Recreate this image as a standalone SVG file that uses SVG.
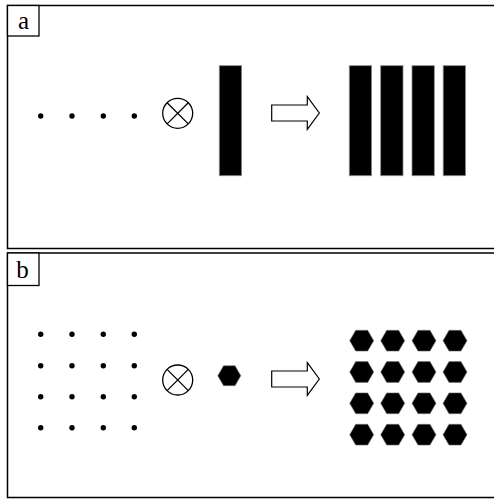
<svg xmlns="http://www.w3.org/2000/svg" width="494" height="500" viewBox="0 0 494 500">
  <style>
    .frame { fill: #fff; stroke: #000; stroke-width: 1.5; }
    .tag { fill: #fff; stroke: #000; stroke-width: 1.3; }
    .tagtxt { font-family: "Liberation Serif", serif; font-size: 25px; fill: #000; }
    .dot { fill: #000; }
    .otimes { fill: none; stroke: #000; stroke-width: 1.3; }
    .bar { fill: #000; stroke: #888; stroke-width: 0.8; }
    .arrow { fill: #fff; stroke: #000; stroke-width: 1.2; }
    .hex { fill: #000; stroke: #777; stroke-width: 0.6; }
  </style>
  <defs>
    <g id="otimes">
      <circle class="otimes" cx="0" cy="0" r="15"/>
      <path class="otimes" d="M-10.6,-10.6 L10.6,10.6 M-10.6,10.6 L10.6,-10.6"/>
    </g>
    <path id="bigArrow" class="arrow" d="M0,-8 H35.6 V-16.3 L47.6,0 L35.6,16.3 V8 H0 Z"/>
    <polygon id="hexS" points="11.5,0 5.75,9.96 -5.75,9.96 -11.5,0 -5.75,-9.96 5.75,-9.96"/>
    <polygon id="hexL" points="12,0 6,10.4 -6,10.4 -12,0 -6,-10.4 6,-10.4"/>
  </defs>

  <!-- Panel a: line of points times a slit gives a grating -->
  <g id="panel-a">
    <rect class="frame" x="7.5" y="5.5" width="490" height="243"/>
    <rect class="tag" x="7.5" y="5.5" width="31.5" height="30.5"/>
    <text class="tagtxt" x="23.5" y="28.7" text-anchor="middle">a</text>
  </g>
  <g id="a-points">
    <circle class="dot" cx="40.7" cy="116" r="2.7"/>
    <circle class="dot" cx="72" cy="116" r="2.7"/>
    <circle class="dot" cx="103.3" cy="116" r="2.7"/>
    <circle class="dot" cx="134.3" cy="116" r="2.7"/>
  </g>
  <g id="a-conv"><use href="#otimes" x="177.7" y="113.3"/></g>
  <g id="a-slit"><rect class="bar" x="219.3" y="65.7" width="22.3" height="110"/></g>
  <g id="a-grating">
    <rect class="bar" x="349.3" y="65.7" width="22.3" height="110"/>
    <rect class="bar" x="380.7" y="65.7" width="22.3" height="110"/>
    <rect class="bar" x="412" y="65.7" width="22.3" height="110"/>
    <rect class="bar" x="443.2" y="65.7" width="22.3" height="110"/>
  </g>

  <!-- Panel b: lattice of points times a hexagon gives a hexagon array -->
  <g id="panel-b">
    <rect class="frame" x="7.5" y="253" width="490" height="244.5"/>
    <rect class="tag" x="7.5" y="253" width="31.5" height="32.5"/>
    <text class="tagtxt" x="22.5" y="278" text-anchor="middle">b</text>
  </g>
  <g id="b-points">
    <circle class="dot" cx="40.7" cy="334.3" r="2.7"/>
    <circle class="dot" cx="72" cy="334.3" r="2.7"/>
    <circle class="dot" cx="103.3" cy="334.3" r="2.7"/>
    <circle class="dot" cx="134.3" cy="334.3" r="2.7"/>
    <circle class="dot" cx="40.7" cy="365.7" r="2.7"/>
    <circle class="dot" cx="72" cy="365.7" r="2.7"/>
    <circle class="dot" cx="103.3" cy="365.7" r="2.7"/>
    <circle class="dot" cx="134.3" cy="365.7" r="2.7"/>
    <circle class="dot" cx="40.7" cy="396.7" r="2.7"/>
    <circle class="dot" cx="72" cy="396.7" r="2.7"/>
    <circle class="dot" cx="103.3" cy="396.7" r="2.7"/>
    <circle class="dot" cx="134.3" cy="396.7" r="2.7"/>
    <circle class="dot" cx="40.7" cy="427.7" r="2.7"/>
    <circle class="dot" cx="72" cy="427.7" r="2.7"/>
    <circle class="dot" cx="103.3" cy="427.7" r="2.7"/>
    <circle class="dot" cx="134.3" cy="427.7" r="2.7"/>
  </g>
  <g id="b-conv"><use href="#otimes" x="177.7" y="380"/></g>
  <g id="b-hexagon"><use href="#hexS" class="hex" x="229.3" y="375.7"/></g>
  <g id="b-array">
    <use href="#hexL" class="hex" x="361.7" y="340.7"/>
    <use href="#hexL" class="hex" x="392.7" y="340.7"/>
    <use href="#hexL" class="hex" x="424" y="340.7"/>
    <use href="#hexL" class="hex" x="455" y="340.7"/>
    <use href="#hexL" class="hex" x="361.7" y="372"/>
    <use href="#hexL" class="hex" x="392.7" y="372"/>
    <use href="#hexL" class="hex" x="424" y="372"/>
    <use href="#hexL" class="hex" x="455" y="372"/>
    <use href="#hexL" class="hex" x="361.7" y="403.3"/>
    <use href="#hexL" class="hex" x="392.7" y="403.3"/>
    <use href="#hexL" class="hex" x="424" y="403.3"/>
    <use href="#hexL" class="hex" x="455" y="403.3"/>
    <use href="#hexL" class="hex" x="361.7" y="434.7"/>
    <use href="#hexL" class="hex" x="392.7" y="434.7"/>
    <use href="#hexL" class="hex" x="424" y="434.7"/>
    <use href="#hexL" class="hex" x="455" y="434.7"/>
  </g>

  <!-- Connectors: block arrows -->
  <g id="connectors">
    <use href="#bigArrow" x="271.7" y="113"/>
    <use href="#bigArrow" x="271.7" y="379"/>
  </g>
</svg>
